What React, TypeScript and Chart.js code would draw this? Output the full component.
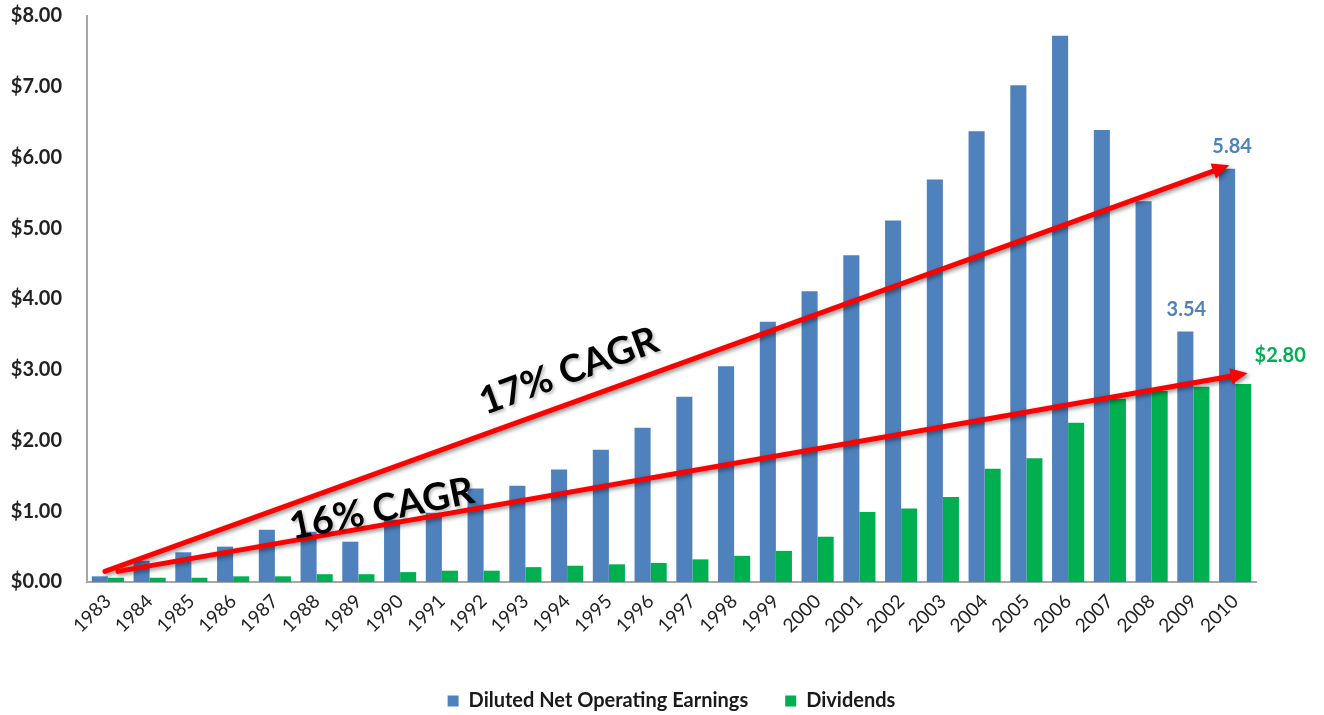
import React, { useEffect, useRef } from "react";
import { Chart, registerables } from "chart.js";

Chart.register(...registerables);

const years = [
  "1983", "1984", "1985", "1986", "1987", "1988", "1989", "1990", "1991", "1992",
  "1993", "1994", "1995", "1996", "1997", "1998", "1999", "2000", "2001", "2002",
  "2003", "2004", "2005", "2006", "2007", "2008", "2009", "2010",
];

const earnings = [
  0.08, 0.30, 0.42, 0.50, 0.74, 0.71, 0.57, 0.88, 0.98, 1.32,
  1.36, 1.59, 1.87, 2.18, 2.62, 3.05, 3.68, 4.11, 4.62, 5.11,
  5.69, 6.37, 7.02, 7.72, 6.39, 5.38, 3.54, 5.84,
];

const dividends = [
  0.06, 0.06, 0.06, 0.08, 0.08, 0.11, 0.11, 0.14, 0.16, 0.16,
  0.21, 0.23, 0.25, 0.27, 0.32, 0.37, 0.44, 0.64, 0.99, 1.04,
  1.20, 1.60, 1.75, 2.25, 2.59, 2.70, 2.76, 2.80,
];

const seriesNames = ["Diluted Net Operating Earnings", "Dividends"];

// CAGR arrows in data units: [category index, value]
const arrow17From = [-0.07, 0.15];
const arrow17To = [26.86, 5.89];
const arrow16From = [0.24, 0.15];
const arrow16To = [27.3, 2.95];

// annotation text anchors in data units
const cagrLabels = ["17% CAGR", "16% CAGR"];
const cagrAnchors = [
  [11.04, 2.98],
  [6.56, 1.03],
];

// value callouts: [dataset, index, text]
const callouts: [number, number, string][] = [
  [0, 27, "5.84"],
  [0, 26, "3.54"],
  [1, 27, "$2.80"],
];

const BLUE = "#4f81bd";
const GREEN = "#00b050";
const FONT = "Lato, 'Open Sans', sans-serif";

const annotationPlugin = {
  id: "cagrAnnotations",
  afterDatasetsDraw(chart: any) {
    const ctx = chart.ctx as CanvasRenderingContext2D;
    const xs = chart.scales.x;
    const ys = chart.scales.y;
    const px = (p: number[]) => [xs.getPixelForValue(p[0]), ys.getPixelForValue(p[1])];

    const drawArrow = (from: number[], to: number[]) => {
      const [x1, y1] = px(from);
      const [x2, y2] = px(to);
      const ang = Math.atan2(y2 - y1, x2 - x1);
      const headLen = 17;
      const headW = 8;
      const bx = x2 - headLen * Math.cos(ang);
      const by = y2 - headLen * Math.sin(ang);
      ctx.save();
      ctx.shadowColor = "rgba(0,0,0,0.45)";
      ctx.shadowBlur = 4;
      ctx.shadowOffsetX = 2;
      ctx.shadowOffsetY = 2;
      ctx.strokeStyle = "#ff0000";
      ctx.fillStyle = "#ff0000";
      ctx.lineWidth = 5;
      ctx.lineCap = "round";
      ctx.beginPath();
      ctx.moveTo(x1, y1);
      ctx.lineTo(bx, by);
      ctx.stroke();
      ctx.beginPath();
      ctx.moveTo(x2, y2);
      ctx.lineTo(bx + headW * Math.sin(ang), by - headW * Math.cos(ang));
      ctx.lineTo(bx - headW * Math.sin(ang), by + headW * Math.cos(ang));
      ctx.closePath();
      ctx.fill();
      ctx.restore();
    };

    drawArrow(arrow17From, arrow17To);
    drawArrow(arrow16From, arrow16To);

    const angles = [-20.2, -11.5];
    cagrLabels.forEach((t, i) => {
      const [x, y] = px(cagrAnchors[i]);
      ctx.save();
      ctx.translate(x, y);
      ctx.rotate((angles[i] * Math.PI) / 180);
      ctx.font = `bold 38px ${FONT}`;
      ctx.textAlign = "center";
      ctx.textBaseline = "middle";
      ctx.shadowColor = "rgba(0,0,0,0.25)";
      ctx.shadowBlur = 3;
      ctx.shadowOffsetX = 2;
      ctx.shadowOffsetY = 2;
      ctx.fillStyle = "#000";
      ctx.fillText(t, 0, 0);
      ctx.restore();
    });

    callouts.forEach(([ds, idx, text]) => {
      const bar = chart.getDatasetMeta(ds).data[idx];
      if (!bar) return;
      ctx.save();
      ctx.font = `bold 20px ${FONT}`;
      ctx.textAlign = "center";
      ctx.textBaseline = "middle";
      ctx.fillStyle = ds === 0 ? BLUE : GREEN;
      if (ds === 0) {
        ctx.fillText(text, bar.x + (idx === 27 ? 5 : 1), bar.y - 22);
      } else {
        ctx.fillText(text, bar.x + 37, bar.y - 28);
      }
      ctx.restore();
    });
  },
};

export default function App() {
  const ref = useRef<HTMLCanvasElement | null>(null);

  useEffect(() => {
    if (!ref.current) return;
    const chart = new Chart(ref.current, {
      type: "bar",
      data: {
        labels: years,
        datasets: [
          {
            label: seriesNames[0],
            data: earnings,
            backgroundColor: BLUE,
            categoryPercentage: 0.77,
            barPercentage: 1.0,
          },
          {
            label: seriesNames[1],
            data: dividends,
            backgroundColor: GREEN,
            categoryPercentage: 0.77,
            barPercentage: 1.0,
          },
        ],
      },
      options: {
        animation: false,
        responsive: true,
        maintainAspectRatio: false,
        layout: { padding: { top: 16, right: 68, left: 0, bottom: -6 } },
        plugins: {
          legend: {
            position: "bottom",
            fullSize: false,
            labels: {
              font: { family: FONT, size: 20, weight: "bold" },
              color: "#1a1a1a",
              boxWidth: 11,
              boxHeight: 11,
              padding: 37,
            },
          },
          tooltip: { enabled: false },
        },
        scales: {
          x: {
            grid: { display: false, drawTicks: false },
            border: { display: true, color: "#a6a6a6", width: 2 },
            ticks: {
              minRotation: 45,
              maxRotation: 45,
              autoSkip: false,
              color: "#222",
              padding: 8,
              font: { family: FONT, size: 19 },
            },
            afterFit: (s: any) => {
              s.height = 72;
            },
          },
          y: {
            min: 0,
            max: 8,
            grid: { display: false, drawTicks: false },
            border: { display: true, color: "#a6a6a6", width: 2 },
            ticks: {
              stepSize: 1,
              color: "#222",
              padding: 25,
              font: { family: FONT, size: 20, weight: "bold" },
              callback: (v: any) => "$" + Number(v).toFixed(2),
            },
            afterFit: (s: any) => {
              s.width = 87;
              s.paddingTop = 0;
              s.paddingBottom = 0;
            },
          },
        },
      },
      plugins: [annotationPlugin],
    });
    return () => chart.destroy();
  }, []);

  return (
    <div style={{ position: "fixed", left: 0, top: 0, width: 1324, height: 715, background: "#fff" }}>
      <canvas ref={ref} />
    </div>
  );
}
